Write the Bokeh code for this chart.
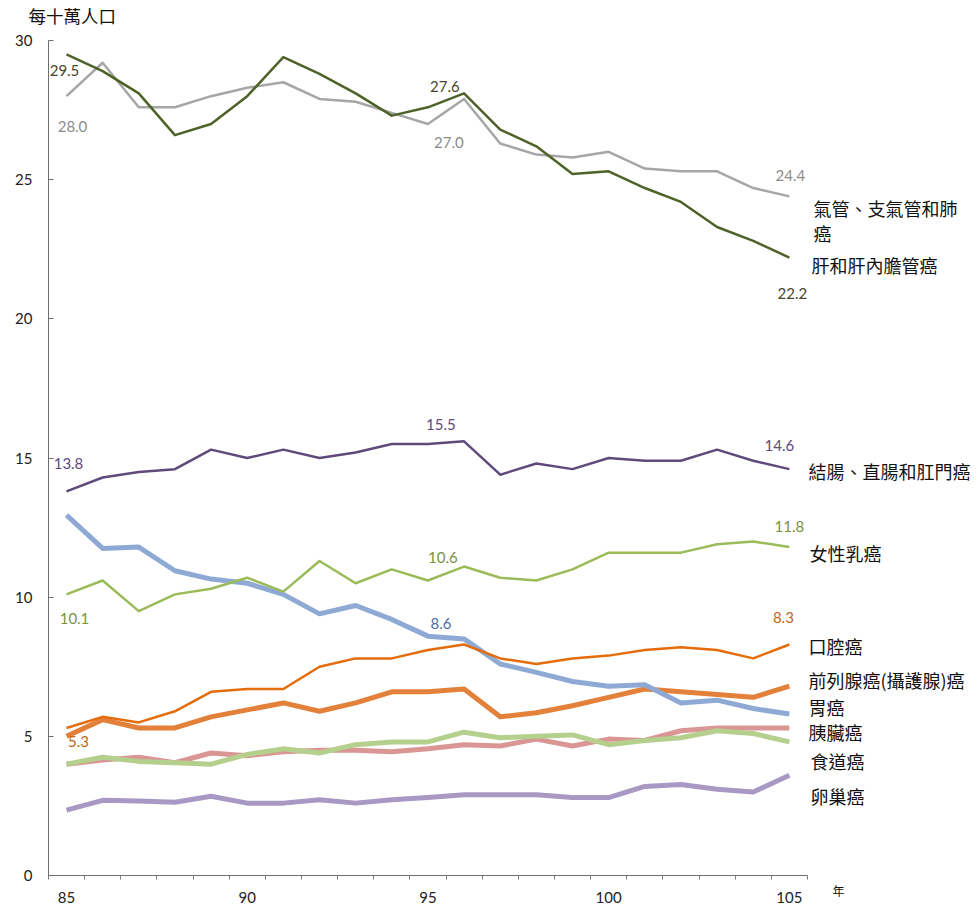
from bokeh.plotting import figure
from bokeh.models import Range1d, FixedTicker, Label, ColumnDataSource
from bokeh.embed import file_html
from bokeh.resources import INLINE

# ---- data ----
years = list(range(85, 106))
lung = [28.0, 29.2, 27.6, 27.6, 28.0, 28.3, 28.5, 27.9, 27.8, 27.4, 27.0, 27.9, 26.3, 25.9, 25.8, 26.0, 25.4, 25.3, 25.3, 24.7, 24.4]
liver = [29.5, 28.9, 28.1, 26.6, 27.0, 28.0, 29.4, 28.8, 28.1, 27.3, 27.6, 28.1, 26.8, 26.2, 25.2, 25.3, 24.7, 24.2, 23.3, 22.8, 22.2]
colorectal = [13.8, 14.3, 14.5, 14.6, 15.3, 15.0, 15.3, 15.0, 15.2, 15.5, 15.5, 15.6, 14.4, 14.8, 14.6, 15.0, 14.9, 14.9, 15.3, 14.9, 14.6]
breast = [10.1, 10.6, 9.5, 10.1, 10.3, 10.7, 10.2, 11.3, 10.5, 11.0, 10.6, 11.1, 10.7, 10.6, 11.0, 11.6, 11.6, 11.6, 11.9, 12.0, 11.8]
stomach = [12.95, 11.75, 11.8, 10.95, 10.65, 10.5, 10.1, 9.4, 9.7, 9.2, 8.6, 8.5, 7.6, 7.3, 6.97, 6.8, 6.85, 6.2, 6.3, 6.0, 5.8]
oral = [5.3, 5.7, 5.5, 5.9, 6.6, 6.7, 6.7, 7.5, 7.8, 7.8, 8.1, 8.3, 7.8, 7.6, 7.8, 7.9, 8.1, 8.2, 8.1, 7.8, 8.3]
prostate = [5.0, 5.6, 5.3, 5.3, 5.7, 5.95, 6.2, 5.9, 6.2, 6.6, 6.6, 6.7, 5.7, 5.85, 6.1, 6.4, 6.7, 6.6, 6.5, 6.4, 6.8]
pancreas = [4.0, 4.15, 4.25, 4.05, 4.4, 4.3, 4.45, 4.5, 4.5, 4.45, 4.55, 4.7, 4.65, 4.9, 4.65, 4.9, 4.85, 5.2, 5.3, 5.3, 5.3]
esophagus = [4.0, 4.25, 4.1, 4.05, 4.0, 4.35, 4.55, 4.4, 4.7, 4.8, 4.8, 5.15, 4.95, 5.0, 5.05, 4.7, 4.85, 4.95, 5.2, 5.1, 4.8]
ovary = [2.35, 2.7, 2.68, 2.63, 2.85, 2.6, 2.6, 2.72, 2.6, 2.72, 2.8, 2.9, 2.9, 2.9, 2.8, 2.8, 3.2, 3.27, 3.1, 3.0, 3.6]

names = ["氣管、支氣管和肺", "癌", "肝和肝內膽管癌", "結腸、直腸和肛門癌", "女性乳癌", "口腔癌",
         "前列腺癌(攝護腺)癌", "胃癌", "胰臟癌", "食道癌", "卵巢癌"]
name_y = [24.0, 23.1, 21.95, 14.55, 11.6, 8.23, 7.04, 6.07, 5.17, 4.1, 2.87]
name_dx = [6, 6, 4, 1, 2, 1, 1, 1, 1, 3, 3]

y_ticks = [0, 5, 10, 15, 20, 25, 30]
x_ticks = [85, 90, 95, 100, 105]

# ---- layout (pixels) ----
W, H = 978, 905
X0_PX, PX_PER_YEAR = 66.0, 759.0 / 21   # pixel of first category, category width
Y0_PX, PX_PER_UNIT = 875.0, 835.0 / 30  # pixel of value 0, pixels per unit

x_start = years[0] - X0_PX / PX_PER_YEAR
x_end = years[0] + (W - X0_PX) / PX_PER_YEAR
y_start = -(H - Y0_PX) / PX_PER_UNIT
y_end = Y0_PX / PX_PER_UNIT

p = figure(width=W, height=H, output_backend="svg", toolbar_location=None,
           x_range=Range1d(x_start, x_end), y_range=Range1d(y_start, y_end),
           min_border_left=0, min_border_right=0, min_border_top=0, min_border_bottom=0,
           min_border=0)
p.outline_line_color = None
p.grid.grid_line_color = None
p.background_fill_color = "white"
p.border_fill_color = "white"

x_lo, x_hi = years[0] - 0.5, years[-1] + 0.5

# axes
p.xaxis.fixed_location = 0
p.xaxis.bounds = (x_lo, x_hi)
p.xaxis.ticker = FixedTicker(ticks=x_ticks, minor_ticks=[y - 0.5 for y in years] + [x_hi])
p.xaxis.major_tick_out = 0
p.xaxis.major_tick_in = 0
p.xaxis.minor_tick_out = 4
p.xaxis.minor_tick_in = 0
p.xaxis.minor_tick_line_color = "#7a7a7a"
p.xaxis.major_label_standoff = 12
p.yaxis.fixed_location = x_lo
p.yaxis.bounds = (0, 30)
p.yaxis.ticker = FixedTicker(ticks=y_ticks)
p.yaxis.major_tick_in = 5
p.yaxis.major_tick_out = 0
p.yaxis.minor_tick_line_color = None
p.yaxis.major_label_standoff = 16
for ax in (p.xaxis, p.yaxis):
    ax.axis_line_color = "#6e6e6e"
    ax.major_tick_line_color = "#6e6e6e"
    ax.major_label_text_font = "Lato"
    ax.major_label_text_font_size = "15px"
    ax.major_label_text_color = "#222222"

# lines (back to front)
series = [
    (ovary, "#a898c4", 5),
    (pancreas, "#d99694", 5),
    (esophagus, "#b5cf8c", 5),
    (prostate, "#e3803a", 5),
    (stomach, "#8eaad4", 5),
    (oral, "#e46c0a", 2.5),
    (breast, "#9bbb59", 2.5),
    (colorectal, "#604a7b", 2.5),
    (lung, "#a6a6a6", 2.5),
    (liver, "#4f6228", 2.5),
]
for vals, col, w in series:
    src = ColumnDataSource(dict(x=years, y=vals))
    p.line("x", "y", source=src, line_color=col, line_width=w, line_join="round")

# value labels: (series, year index, colour, dx, dy)
val_labels = [
    (liver, 0, "#4a452a", -2, -16),
    (lung, 0, "#8c8c8c", 6, -30),
    (liver, 10, "#4a452a", 17, 21),
    (lung, 10, "#8c8c8c", 21, -18),
    (lung, 20, "#8c8c8c", 1, 21),
    (liver, 20, "#4a452a", 3, -36),
    (colorectal, 0, "#5f497a", 2, 28),
    (colorectal, 10, "#5f497a", 13, 20),
    (colorectal, 20, "#5f497a", -10, 24),
    (breast, 0, "#77933c", 8, -24),
    (breast, 10, "#77933c", 15, 23),
    (breast, 20, "#77933c", 0, 21),
    (stomach, 10, "#4f6fa0", 13, 13),
    (oral, 20, "#c0661a", -6, 27),
    (oral, 0, "#c0661a", 12, -14),
]
for vals, i, col, dx, dy in val_labels:
    p.add_layout(Label(x=years[i], y=vals[i], text=f"{vals[i]:.1f}", x_offset=dx, y_offset=dy,
                       text_align="center", text_baseline="middle", text_font="Lato",
                       text_font_size="15px", text_color=col))

# series names at right
for t, yy, dx in zip(names, name_y, name_dx):
    p.add_layout(Label(x=x_hi, y=yy, text=t, x_offset=dx, text_align="left", text_baseline="middle",
                       text_font="Noto Sans CJK TC", text_font_size="18px", text_color="#111111"))

# axis titles
p.add_layout(Label(x=x_lo, y=30, text="每十萬人口", x_offset=-20, y_offset=25, text_align="left",
                   text_baseline="middle", text_font="Noto Sans CJK TC", text_font_size="17.5px",
                   text_color="#111111"))
p.add_layout(Label(x=x_hi, y=0, text="年", x_offset=25, y_offset=-15, text_align="left",
                   text_baseline="middle", text_font="Noto Sans CJK TC", text_font_size="12px",
                   text_color="#111111"))

open("out.html", "w").write(file_html(p, INLINE))
